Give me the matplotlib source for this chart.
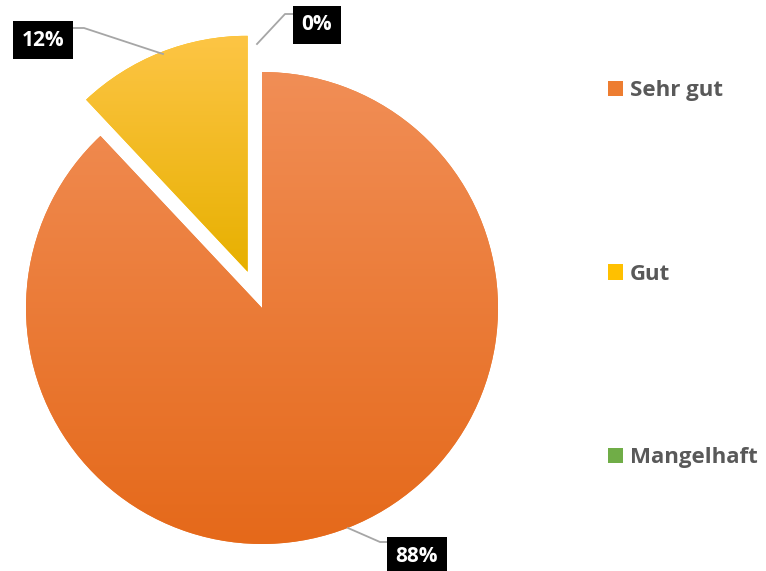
import numpy as np
import matplotlib
matplotlib.use("Agg")
import matplotlib.pyplot as plt
from matplotlib.colors import LinearSegmentedColormap

categories = ["Sehr gut", "Gut", "Mangelhaft"]
values = [88, 12, 0]
labels = ["88%", "12%", "0%"]
base_colors = ["#ED7D31", "#FFC000", "#70AD47"]
grad_colors = [("#F18E56", "#E5691A"), ("#FDC545", "#E7B000"), ("#8CC266", "#5E9A38")]

W, H = 766, 571
fig = plt.figure(figsize=(W / 100, H / 100), dpi=100)
ax = fig.add_axes([0, 0, 1, 1])

cx, cy, r = 262, 263, 236
wedges, _ = ax.pie(values, colors=base_colors, startangle=90, counterclock=False,
                   explode=[0, 39, 0], center=(cx, cy), radius=r,
                   wedgeprops=dict(linewidth=0), frame=True)

grad = np.linspace(0, 1, 256).reshape(-1, 1)
for w, (ctop, cbot) in zip(wedges, grad_colors):
    ext = w.get_path().get_extents()
    if ext.height <= 0 or ext.width <= 0:
        continue
    cmap = LinearSegmentedColormap.from_list("g", [cbot, ctop])
    im = ax.imshow(grad, extent=[ext.x0, ext.x1, ext.y0, ext.y1], origin="lower",
                   cmap=cmap, aspect="auto", zorder=w.get_zorder() + 0.1,
                   interpolation="bilinear")
    im.set_clip_path(w)
ax.set_xlim(0, W)
ax.set_ylim(0, H)
ax.set_aspect("equal")
ax.axis("off")

FONT = "Open Sans"

# data labels (pixel positions in top-down coords)
label_pos = {"88%": (417, 556), "12%": (43, 40), "0%": (317, 25)}
leaders = {
    "88%": [(348, 528), (380, 542), (390, 542)],
    "12%": [(73, 28), (84, 28), (163, 54)],
    "0%": [(257, 44), (285, 14), (294, 14)],
}
for lab in labels:
    pts = leaders[lab]
    ax.plot([p[0] for p in pts], [H - p[1] for p in pts], color="#A6A6A6", lw=1.3, zorder=5)
    x, y = label_pos[lab]
    ax.text(x, H - y, lab, ha="center", va="center", color="white", fontsize=15,
            fontweight="bold", family=FONT, zorder=7,
            bbox=dict(boxstyle="square,pad=0.4", fc="black", ec="none"))

# legend
ax.legend(wedges, categories, loc="upper left", bbox_to_anchor=(608 / W, 1 - 80 / H),
          frameon=False, labelspacing=7.32, handlelength=0.68, handleheight=0.68,
          handletextpad=0.3, borderpad=0, borderaxespad=0,
          prop=dict(family=FONT, weight="bold", size=16), labelcolor="#595959")

fig.savefig("out.png", dpi=100)
